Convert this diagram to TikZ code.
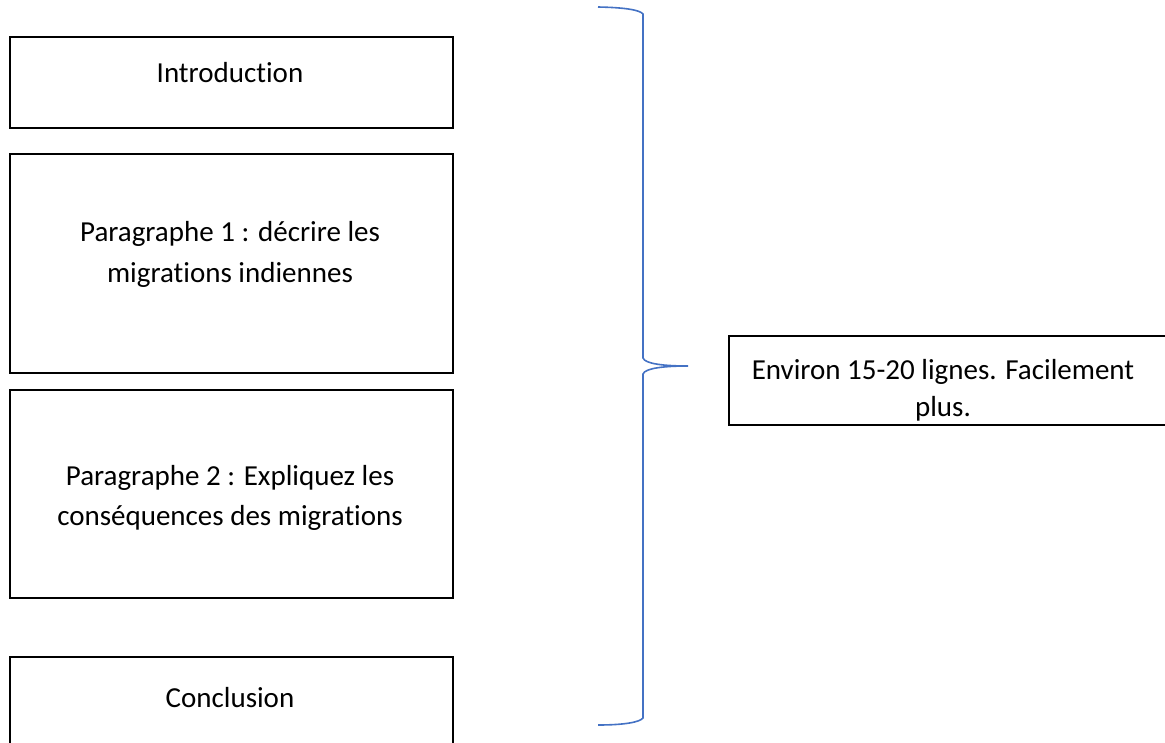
\documentclass[tikz,border=0pt]{standalone}
\usepackage{fontspec}
\setmainfont[Ligatures={NoCommon}]{Carlito}
\begin{document}
\begin{tikzpicture}[x=1pt,y=-1pt,
  box/.style={draw=black,line width=2.3pt,inner sep=0pt},
  lbl/.style={font=\fontsize{29}{41}\selectfont,align=center,inner sep=0pt,anchor=base},
  brace/.style={draw={rgb,255:red,68;green,114;blue,196},line width=1.6pt}]
\useasboundingbox (0,0) rectangle (1165,742);
\clip (0,0) rectangle (1165,742);
\node[box,minimum width=443pt,minimum height=91pt,anchor=north west] (intro) at (9,36) {};
\node[box,minimum width=443pt,minimum height=219pt,anchor=north west] (p1) at (9,153) {};
\node[box,minimum width=443pt,minimum height=208pt,anchor=north west] (p2) at (9,389) {};
\node[box,minimum width=443pt,minimum height=100pt,anchor=north west] (concl) at (9,656) {};
\node[box,minimum width=440pt,minimum height=89pt,anchor=north west] (env) at (728,335) {};
\node[lbl] (tintro) at (230,82) {Introduction};
\node[lbl] (tp1a) at (230,241) {Paragraphe 1 : décrire les};
\node[lbl] (tp1b) at (230,282) {migrations indiennes};
\node[lbl] (tp2a) at (230,485) {Paragraphe 2 : Expliquez les};
\node[lbl] (tp2b) at (230,525) {conséquences des migrations};
\node[lbl] (tconcl) at (230,707) {Conclusion};
\node[lbl] (tenva) at (943,379) {Environ 15-20 lignes. Facilement};
\node[lbl] (tenvb) at (943,416) {plus.};
\coordinate (btop) at (598,7);
\coordinate (bbot) at (598,725);
\coordinate (btip) at (688,366);
\draw[brace] (btop) .. controls (625,7.5) and (640,10) .. (643,14)
  -- (643,358) .. controls (645,364) and (665,366) .. (btip)
  .. controls (665,366) and (645,368) .. (643,374)
  -- (643,718) .. controls (640,722) and (625,725) .. (bbot);
\end{tikzpicture}
\end{document}
